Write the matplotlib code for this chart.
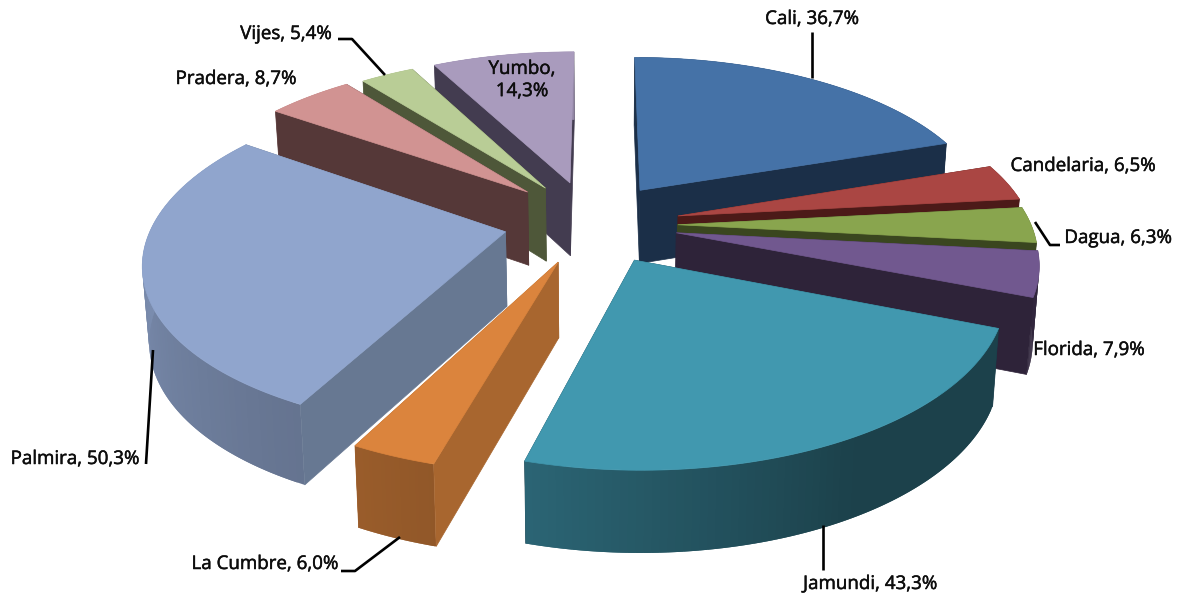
import numpy as np
import matplotlib
matplotlib.use("Agg")
import matplotlib.pyplot as plt
import matplotlib.patheffects as pe
from matplotlib.collections import PolyCollection
from matplotlib.colors import to_rgb

names = ["Cali", "Candelaria", "Dagua", "Florida", "Jamundi",
         "La Cumbre", "Palmira", "Pradera", "Vijes", "Yumbo"]
values = [36.7, 6.5, 6.3, 7.9, 43.3, 6.0, 50.3, 8.7, 5.4, 14.3]
top_colors = ["#4572a7", "#aa4643", "#89a54e", "#71588f", "#4198af",
              "#db843d", "#90a5cd", "#d19392", "#b9cd96", "#a99bbd"]
wall_colors = ["#1b2f48", "#4c1a18", "#3a461f", "#2e2339", "#1a3d4a",
               "#a8662f", "#677892", "#553838", "#4e5739", "#433c50"]

# how far each slice is pulled out of the pie, on the pie plane
explode_x = [41, 78, 77, 75, 33, -40, -93, -74, -56, -31]
explode_y = [55, -2, -21, -38, -94, -98, -36, 51, 60, 72]

# painter order, back to front
draw_order = [9, 8, 7, 6, 0, 1, 2, 3, 4, 5]

# outer wall brightness by angle
light_angle = [0, 150, 195, 207, 270, 360]
light_shade = [0.43, 0.43, 0.66, 0.70, 0.86, 0.86]

label_x = [812, 1083, 1118, 1089, 870, 265, 75, 236, 286, 522]
label_y = [19, 166, 238, 350, 584, 564, 459, 79, 34, 80]
leaders = {
    "Cali": ([812, 812], [32, 78]),
    "Dagua": ([1035, 1050, 1060], [222, 245, 245]),
    "Jamundi": ([823, 823], [525, 570]),
    "La Cumbre": ([341, 355, 400], [571, 571, 537]),
    "Palmira": ([153, 146], [350, 464]),
    "Vijes": ([338, 352, 385], [39, 39, 75]),
}

CX, CY = 600, 215
RADIUS = 350
TILT = 0.46
PERSP = 0.00045
DEPTH = 74
SHRINK = 0.985


def project(x, y, low=False):
    f = 1 / (1 + PERSP * y)
    sx = CX + x * f
    sy = CY - TILT * y * f
    if low:
        sx = CX + (sx - CX) * SHRINK
        sy = sy + DEPTH * np.sqrt(f)
    return sx, sy


def scale(color, k):
    return tuple(c * k for c in to_rgb(color))


def poly(ax, xs, ys, color, zorder):
    ax.fill(xs, ys, facecolor=color, edgecolor=color, lw=0.5, zorder=zorder)


plt.rcParams["font.family"] = ["Open Sans", "DejaVu Sans"]
fig = plt.figure(figsize=(11.77, 5.95), dpi=100)
ax = fig.add_axes([0, 0, 1, 1])
ax.set_xlim(0, 1177)
ax.set_ylim(595, 0)
ax.axis("off")

edges = np.concatenate([[0], np.cumsum(values)]) / np.sum(values) * 360

z = 1
for i in draw_order:
    a0, a1 = edges[i], edges[i + 1]
    t = np.radians(np.linspace(a0, a1, 80))
    ex, ey = explode_x[i], explode_y[i]
    px = ex + RADIUS * np.sin(t)
    py = ey + RADIUS * np.cos(t)
    tx, ty = project(px, py)
    bx, by = project(px, py, low=True)
    ax0, ay0 = project(ex, ey)
    bx0, by0 = project(ex, ey, low=True)

    start_wall = ([ax0, tx[0], bx[0], bx0], [ay0, ty[0], by[0], by0])
    end_wall = ([ax0, tx[-1], bx[-1], bx0], [ay0, ty[-1], by[-1], by0])
    start_seen = np.sin(np.radians(a0)) < 0
    end_seen = np.sin(np.radians(a1)) > 0

    # walls facing away go under the outer wall, the others over it
    for wall, seen in ((start_wall, start_seen), (end_wall, end_seen)):
        if not seen:
            poly(ax, wall[0], wall[1], wall_colors[i], z)
    z += 1

    # quads overlap the next one so no seams show
    quads = []
    cols = []
    mids = np.degrees((t[:-1] + t[1:]) / 2)
    for j in range(len(t) - 1):
        k = min(j + 2, len(t) - 1)
        quads.append([(tx[j], ty[j]), (tx[k], ty[k]), (bx[k], by[k]), (bx[j], by[j])])
        cols.append(scale(top_colors[i], np.interp(mids[j], light_angle, light_shade)))
    ax.add_collection(PolyCollection(quads, facecolors=cols, edgecolors="none",
                                     linewidths=0, zorder=z))
    z += 1

    for wall, seen in ((start_wall, start_seen), (end_wall, end_seen)):
        if seen:
            poly(ax, wall[0], wall[1], wall_colors[i], z)
    z += 1

    poly(ax, np.r_[ax0, tx], np.r_[ay0, ty], top_colors[i], z)
    z += 1

for name, (xs, ys) in leaders.items():
    ax.plot(xs, ys, color="black", lw=1.9, zorder=z, solid_capstyle="butt")

for i, name in enumerate(names):
    text = f"{name}, {values[i]:.1f}%".replace(".", ",")
    if name == "Yumbo":
        text = text.replace(" ", "\n")
    t_obj = ax.text(label_x[i], label_y[i], text, ha="center", va="center", fontsize=13.5,
                    color="#0d0d0d", zorder=z + 1, linespacing=1.3)
    t_obj.set_path_effects([pe.withStroke(linewidth=0.35, foreground="#0d0d0d")])

fig.savefig("out.png", dpi=100, facecolor="white")
